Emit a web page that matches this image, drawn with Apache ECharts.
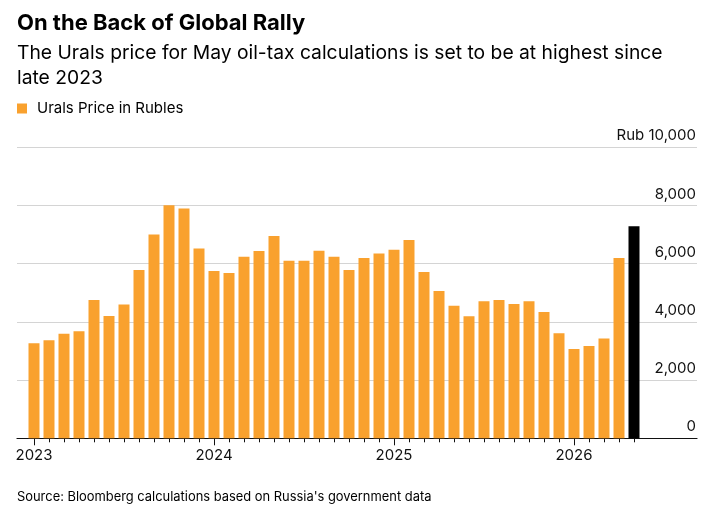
<!DOCTYPE html>
<html>
<head>
<meta charset="utf-8">
<script src="https://cdn.jsdelivr.net/npm/echarts@6/dist/echarts.min.js"></script>
<style>
  html, body { margin: 0; padding: 0; background: #fff; }
  #chart { width: 717px; height: 515px; }
</style>
</head>
<body>
<div id="chart"></div>
<script>
// monthly Urals price in rubles, Jan 2023 .. May 2026 (last one is the May tax figure)
const months = [
  '2023-01', '2023-02', '2023-03', '2023-04', '2023-05', '2023-06',
  '2023-07', '2023-08', '2023-09', '2023-10', '2023-11', '2023-12',
  '2024-01', '2024-02', '2024-03', '2024-04', '2024-05', '2024-06',
  '2024-07', '2024-08', '2024-09', '2024-10', '2024-11', '2024-12',
  '2025-01', '2025-02', '2025-03', '2025-04', '2025-05', '2025-06',
  '2025-07', '2025-08', '2025-09', '2025-10', '2025-11', '2025-12',
  '2026-01', '2026-02', '2026-03', '2026-04', '2026-05'
];
const prices = [
  3269, 3371, 3589, 3680, 4754, 4206, 4594, 5783, 7006, 8011, 7897, 6526,
  5749, 5680, 6240, 6435, 6949, 6103, 6103, 6446, 6240, 5783, 6194, 6354,
  6480, 6811, 5714, 5063, 4555, 4195, 4710, 4756, 4618, 4710, 4343, 3610,
  3071, 3174, 3426, 6200, 7289
];
const yTicks = [0, 2000, 4000, 6000, 8000, 10000];

const ORANGE = '#F9A12E';
const FONT = 'Inter, "Liberation Sans", Arial, sans-serif';

const chart = echarts.init(document.getElementById('chart'));

const isJan = (i, v) => v.endsWith('-01');

const option = {
  animation: false,
  textStyle: { fontFamily: FONT },
  title: [
    {
      text: 'On the Back of Global Rally',
      left: 12, top: 7,
      textStyle: { fontSize: 22, fontWeight: 'bold', color: '#000', fontFamily: FONT }
    },
    {
      text: 'The Urals price for May oil-tax calculations is set to be at highest since\nlate 2023',
      left: 12, top: 36,
      textStyle: { fontSize: 19.3, fontWeight: 'normal', color: '#000', lineHeight: 25, fontFamily: FONT }
    },
    {
      text: "Source: Bloomberg calculations based on Russia's government data",
      left: 12, top: 486,
      textStyle: { fontSize: 12.9, fontWeight: 'normal', color: '#000', fontFamily: FONT }
    }
  ],
  legend: {
    left: 12, top: 96,
    icon: 'rect', itemWidth: 10, itemHeight: 10, itemGap: 10,
    textStyle: { fontSize: 15, color: '#000', fontFamily: FONT, padding: [0, 0, 0, 5] },
    data: [{ name: 'Urals Price in Rubles', itemStyle: { color: ORANGE } }]
  },
  grid: [
    { left: 17, right: 20, top: 147.3, bottom: 76.7 },
    { left: 26.5, right: 75.5, top: 147.3, bottom: 76.7 }
  ],
  xAxis: [
    {
      gridIndex: 0, type: 'value', min: 0, max: 1,
      axisLine: { show: true, lineStyle: { color: '#111', width: 1.2 } },
      axisTick: { show: false }, axisLabel: { show: false }, splitLine: { show: false }
    },
    {
      gridIndex: 1, type: 'category', data: months,
      axisLine: { show: false },
      axisTick: { show: true, alignWithLabel: true, interval: 0, length: 4, lineStyle: { color: '#111' } },
      axisLabel: { show: false }
    },
    {
      gridIndex: 1, type: 'category', data: months, position: 'bottom',
      axisLine: { show: false },
      axisTick: { show: true, alignWithLabel: true, interval: isJan, length: 7, lineStyle: { color: '#111' } },
      axisLabel: {
        show: true, interval: isJan, margin: 10,
        fontSize: 15, color: '#111', fontFamily: FONT,
        formatter: v => v.slice(0, 4)
      }
    }
  ],
  yAxis: [
    {
      gridIndex: 0, type: 'value', position: 'right',
      min: yTicks[0], max: yTicks[yTicks.length - 1], interval: 2000,
      axisLine: { show: false }, axisTick: { show: false },
      splitLine: { show: true, lineStyle: { color: '#d4d4d4', width: 1 } },
      axisLabel: {
        inside: true, margin: 1, verticalAlign: 'bottom', padding: [0, 0, 4, 0],
        fontSize: 15, color: '#111', fontFamily: FONT,
        formatter: v => (v === 10000 ? 'Rub ' : '') + v.toLocaleString('en-US')
      }
    },
    {
      gridIndex: 1, type: 'value', min: 0, max: 10000, show: false
    }
  ],
  series: [
    {
      name: 'Urals Price in Rubles',
      type: 'bar',
      xAxisIndex: 1, yAxisIndex: 1,
      barWidth: 11,
      itemStyle: { color: ORANGE },
      data: prices.map((v, i) => i === prices.length - 1
        ? { value: v, itemStyle: { color: '#000' } }
        : v)
    }
  ]
};

chart.setOption(option);
</script>
</body>
</html>
